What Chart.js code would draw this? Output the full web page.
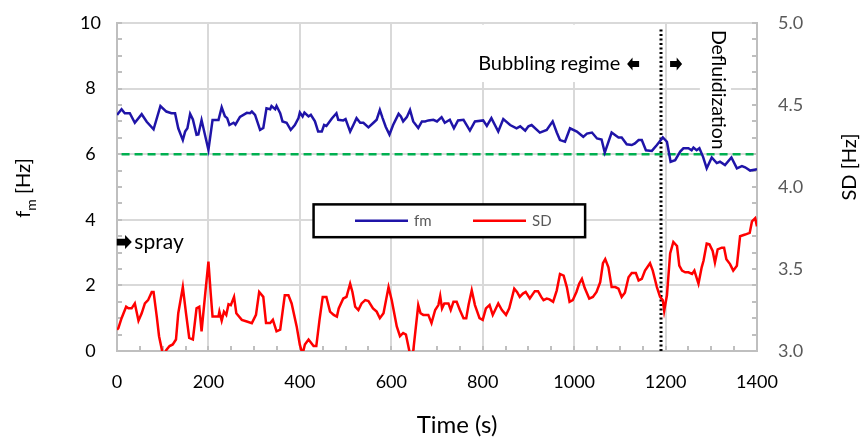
<!DOCTYPE html>
<html>
<head>
<meta charset="utf-8">
<script src="https://cdn.jsdelivr.net/npm/chart.js@4.4.1/dist/chart.umd.min.js"></script>
<style>
  html, body { margin: 0; padding: 0; background: #fff; }
  #wrap { width: 867px; height: 439px; position: relative; }
</style>
</head>
<body>
<div id="wrap"><canvas id="chart"></canvas></div>
<script>
// fm (left axis, Hz)
const fmTime = [0, 3, 10, 17, 28, 39, 54, 65, 80, 95, 108, 119, 127, 134, 144, 149, 154, 160, 166, 174, 178, 185, 200, 209, 222, 229, 236, 241, 246, 255, 259, 269, 284, 291, 295, 302, 313, 320, 327, 335, 338, 346, 349, 357, 362, 371, 380, 389, 397, 400, 406, 410, 419, 424, 433, 440, 448, 453, 458, 470, 480, 484, 495, 500, 510, 517, 524, 532, 539, 550, 561, 568, 575, 581, 588, 596, 604, 616, 621, 626, 634, 641, 648, 659, 667, 674, 681, 692, 700, 710, 717, 728, 737, 746, 758, 772, 783, 801, 809, 819, 834, 845, 860, 874, 882, 893, 900, 907, 925, 940, 953, 962, 969, 980, 991, 1006, 1020, 1028, 1039, 1050, 1060, 1067, 1082, 1097, 1104, 1115, 1126, 1133, 1141, 1148, 1157, 1170, 1181, 1194, 1203, 1211, 1221, 1232, 1239, 1250, 1257, 1261, 1268, 1274, 1282, 1290, 1301, 1312, 1319, 1330, 1344, 1356, 1367, 1374, 1385, 1400];
const fmValues = [7.2, 7.25, 7.37, 7.25, 7.25, 6.96, 7.22, 6.99, 6.76, 7.47, 7.3, 7.25, 7.25, 6.79, 6.43, 6.69, 6.79, 7.23, 7.06, 6.59, 6.6, 7.04, 6.13, 7.04, 7.04, 7.43, 7.16, 7.1, 6.89, 6.96, 6.9, 7.14, 7.26, 7.25, 7.3, 7.2, 6.74, 6.8, 7.4, 7.37, 7.47, 7.37, 7.47, 7.25, 7.0, 6.96, 6.74, 6.89, 7.1, 7.27, 7.15, 7.27, 7.15, 7.2, 7.0, 6.69, 6.69, 6.89, 6.86, 7.09, 7.25, 7.05, 7.03, 7.07, 6.69, 6.89, 7.1, 6.96, 6.96, 6.82, 6.96, 7.05, 7.35, 7.1, 6.83, 6.6, 6.89, 7.23, 7.15, 7.0, 7.13, 7.35, 7.0, 6.8, 7.0, 7.0, 7.03, 7.05, 7.0, 7.13, 6.96, 7.05, 6.79, 7.03, 7.05, 6.72, 7.0, 7.03, 6.86, 7.1, 6.69, 7.07, 6.89, 6.79, 6.85, 6.72, 6.85, 6.89, 6.66, 6.74, 7.0, 6.66, 6.43, 6.38, 6.79, 6.69, 6.53, 6.63, 6.66, 6.48, 6.45, 6.05, 6.66, 6.51, 6.51, 6.3, 6.28, 6.33, 6.43, 6.43, 6.12, 6.1, 6.28, 6.51, 6.38, 5.77, 5.82, 6.08, 6.18, 6.18, 6.12, 6.2, 6.12, 6.18, 5.92, 5.57, 5.9, 5.73, 5.77, 5.67, 5.9, 5.57, 5.64, 5.6, 5.5, 5.54];

// SD (right axis, Hz)
const sdTime = [0, 3, 10, 20, 25, 32, 39, 47, 54, 61, 68, 76, 80, 87, 92, 101, 108, 115, 122, 129, 134, 144, 151, 158, 166, 174, 180, 185, 193, 200, 205, 209, 222, 224, 229, 234, 239, 244, 249, 256, 261, 273, 284, 295, 304, 311, 320, 326, 335, 341, 349, 357, 367, 375, 382, 393, 400, 406, 411, 419, 430, 436, 443, 450, 458, 466, 474, 481, 485, 495, 502, 510, 515, 521, 528, 535, 543, 550, 560, 568, 575, 583, 594, 601, 612, 619, 626, 632, 641, 648, 659, 664, 670, 681, 688, 696, 703, 707, 711, 716, 725, 730, 736, 743, 750, 758, 764, 769, 776, 783, 793, 800, 807, 815, 822, 834, 842, 851, 858, 869, 875, 881, 888, 894, 903, 914, 921, 928, 933, 940, 946, 954, 962, 969, 977, 984, 990, 997, 1005, 1011, 1017, 1023, 1033, 1041, 1049, 1057, 1063, 1068, 1075, 1082, 1090, 1097, 1104, 1111, 1119, 1126, 1135, 1141, 1148, 1155, 1166, 1172, 1181, 1188, 1194, 1197, 1203, 1210, 1217, 1225, 1230, 1236, 1243, 1250, 1258, 1263, 1272, 1279, 1283, 1290, 1296, 1303, 1308, 1314, 1323, 1328, 1333, 1341, 1348, 1356, 1363, 1374, 1384, 1389, 1396, 1400];
const sdValues = [3.13, 3.14, 3.2, 3.27, 3.26, 3.26, 3.29, 3.185, 3.23, 3.29, 3.31, 3.36, 3.36, 3.21, 3.09, 2.97, 3.006, 3.03, 3.04, 3.07, 3.23, 3.39, 3.23, 3.08, 3.07, 3.26, 3.27, 3.12, 3.35, 3.545, 3.35, 3.21, 3.21, 3.24, 3.185, 3.24, 3.22, 3.285, 3.28, 3.33, 3.23, 3.19, 3.18, 3.17, 3.22, 3.36, 3.33, 3.17, 3.17, 3.19, 3.12, 3.13, 3.34, 3.34, 3.29, 3.15, 3.037, 2.98, 3.04, 3.07, 3.03, 3.03, 3.19, 3.33, 3.33, 3.24, 3.22, 3.21, 3.26, 3.32, 3.33, 3.41, 3.36, 3.27, 3.25, 3.29, 3.31, 3.305, 3.26, 3.24, 3.2, 3.23, 3.39, 3.31, 3.15, 3.09, 3.11, 3.1, 2.98, 3.0, 3.28, 3.23, 3.22, 3.22, 3.17, 3.25, 3.28, 3.335, 3.26, 3.29, 3.29, 3.25, 3.3, 3.3, 3.25, 3.2, 3.2, 3.28, 3.37, 3.28, 3.2, 3.19, 3.26, 3.28, 3.22, 3.29, 3.25, 3.22, 3.26, 3.38, 3.36, 3.33, 3.35, 3.36, 3.32, 3.365, 3.365, 3.33, 3.31, 3.32, 3.315, 3.3, 3.37, 3.47, 3.46, 3.39, 3.3, 3.31, 3.36, 3.41, 3.44, 3.385, 3.32, 3.33, 3.36, 3.42, 3.535, 3.56, 3.51, 3.39, 3.39, 3.38, 3.33, 3.355, 3.45, 3.475, 3.475, 3.43, 3.44, 3.49, 3.535, 3.49, 3.39, 3.33, 3.31, 3.245, 3.34, 3.595, 3.665, 3.64, 3.52, 3.49, 3.48, 3.48, 3.47, 3.49, 3.41, 3.51, 3.55, 3.655, 3.65, 3.61, 3.54, 3.62, 3.63, 3.63, 3.56, 3.53, 3.49, 3.52, 3.7, 3.71, 3.72, 3.79, 3.81, 3.76];

// reference line at 6 Hz and the bubbling / defluidization boundary
const refTime = [10, 1400];
const refValues = [6, 6];
const boundaryTime = [1190, 1190];
const boundaryValues = [0, 9.85];

const FONT = 'Lato';
const GRID = '#d9d9d9';
const AXIS = '#bfbfbf';

const toPoints = (xs, ys) => xs.map((t, i) => ({x: t, y: ys[i]}));

// draws a small filled block arrow
function blockArrow(ctx, cx, cy, w, h, dir) {
  const hw = w / 2, hh = h / 2, body = h * 0.24;
  const neck = dir * (hw * 0.1);
  ctx.beginPath();
  ctx.moveTo(cx - dir * hw, cy - body);
  ctx.lineTo(cx + neck, cy - body);
  ctx.lineTo(cx + neck, cy - hh);
  ctx.lineTo(cx + dir * hw, cy);
  ctx.lineTo(cx + neck, cy + hh);
  ctx.lineTo(cx + neck, cy + body);
  ctx.lineTo(cx - dir * hw, cy + body);
  ctx.closePath();
  ctx.fill();
}

// keep the plot top where the reference has it
const noVPad = (s, w) => { s.width = w; s.paddingTop = 0; s.paddingBottom = 0; };

const decor = {
  id: 'decor',
  beforeDatasetsDraw(chart) {
    const {ctx, chartArea: ca, scales: {x, y, y2}} = chart;
    ctx.save();
    // minor tick marks, pointing into the plot
    ctx.strokeStyle = AXIS;
    ctx.lineWidth = 2;
    ctx.beginPath();
    for (let t = 0; t <= 1400; t += 50) {
      const px = Math.round(x.getPixelForValue(t));
      ctx.moveTo(px, ca.bottom);
      ctx.lineTo(px, ca.bottom - 5);
    }
    for (let v = 0; v <= 10; v += 0.5) {
      const py = Math.round(y.getPixelForValue(v));
      ctx.moveTo(ca.left, py);
      ctx.lineTo(ca.left + 5, py);
    }
    for (let i = 0; i <= 20; i++) {
      const py = Math.round(y2.getPixelForValue(3 + i * 0.1));
      ctx.moveTo(ca.right, py);
      ctx.lineTo(ca.right - 5, py);
    }
    ctx.stroke();

    // text boxes (white fill hides the grid behind them)
    ctx.fillStyle = '#fff';
    ctx.fillRect(x.getPixelForValue(770), y.getPixelForValue(9.95), x.getPixelForValue(1178) - x.getPixelForValue(770), y.getPixelForValue(8.2) - y.getPixelForValue(9.95));
    ctx.fillRect(x.getPixelForValue(1275), y.getPixelForValue(9.92), x.getPixelForValue(1343) - x.getPixelForValue(1275), y.getPixelForValue(6.12) - y.getPixelForValue(9.92));

    ctx.fillStyle = '#000';
    ctx.font = `20px ${FONT}`;
    ctx.textBaseline = 'middle';
    ctx.textAlign = 'left';
    const by = y.getPixelForValue(8.75);
    ctx.fillText('Bubbling regime', x.getPixelForValue(790), by);
    blockArrow(ctx, x.getPixelForValue(1129), by, 12, 13, -1);
    blockArrow(ctx, x.getPixelForValue(1223), by, 12, 13, 1);

    // Defluidization, reading top to bottom
    ctx.save();
    ctx.translate(x.getPixelForValue(1315), y.getPixelForValue(9.79));
    ctx.rotate(Math.PI / 2);
    ctx.font = `19.5px ${FONT}`;
    ctx.textAlign = 'left';
    ctx.fillText('Defluidization', 0, 0);
    ctx.restore();

    // spray marker
    const sy = y.getPixelForValue(3.32);
    blockArrow(ctx, x.getPixelForValue(16), sy, 15, 14, 1);
    ctx.font = `21px ${FONT}`;
    ctx.fillText('spray', x.getPixelForValue(38), sy);
    ctx.restore();
  },
  afterDraw(chart) {
    const {ctx, scales: {x, y}} = chart;
    ctx.save();
    // legend box
    const lx0 = x.getPixelForValue(430), lx1 = x.getPixelForValue(1024);
    const ly0 = y.getPixelForValue(4.47), ly1 = y.getPixelForValue(3.47);
    ctx.fillStyle = '#fff';
    ctx.fillRect(lx0, ly0, lx1 - lx0, ly1 - ly0);
    ctx.strokeStyle = '#000';
    ctx.lineWidth = 2.5;
    ctx.strokeRect(lx0, ly0, lx1 - lx0, ly1 - ly0);
    const ly = (ly0 + ly1) / 2;
    const items = [
      {label: 'fm', color: chart.data.datasets[0].borderColor, x0: 355},
      {label: 'SD', color: chart.data.datasets[1].borderColor, x0: 473}
    ];
    ctx.font = `15px ${FONT}`;
    ctx.textBaseline = 'middle';
    ctx.textAlign = 'left';
    items.forEach(it => {
      ctx.strokeStyle = it.color;
      ctx.lineWidth = 2.5;
      ctx.beginPath();
      ctx.moveTo(it.x0, ly);
      ctx.lineTo(it.x0 + 53, ly);
      ctx.stroke();
      ctx.fillStyle = '#595959';
      ctx.fillText(it.label, it.x0 + 59, ly);
    });

    // axis titles
    ctx.fillStyle = '#000';
    // left: f with subscript m, then [Hz]
    ctx.save();
    ctx.translate(24, 188);
    ctx.rotate(-Math.PI / 2);
    ctx.font = `20px ${FONT}`;
    const wf = ctx.measureText('f').width;
    const wr = ctx.measureText(' [Hz]').width;
    ctx.font = `14px ${FONT}`;
    const wm = ctx.measureText('m').width;
    let sx = -(wf + wm + wr) / 2;
    ctx.textBaseline = 'middle';
    ctx.font = `20px ${FONT}`;
    ctx.fillText('f', sx, 0);
    ctx.font = `14px ${FONT}`;
    ctx.fillText('m', sx + wf, 7);
    ctx.font = `20px ${FONT}`;
    ctx.fillText(' [Hz]', sx + wf + wm, 0);
    ctx.restore();

    ctx.save();
    ctx.translate(850, 167);
    ctx.rotate(-Math.PI / 2);
    ctx.font = `20px ${FONT}`;
    ctx.textAlign = 'center';
    ctx.textBaseline = 'middle';
    ctx.fillText('SD [Hz]', 0, 0);
    ctx.restore();

    ctx.font = `24px ${FONT}`;
    ctx.textAlign = 'center';
    ctx.textBaseline = 'middle';
    ctx.fillText('Time (s)', 457, 425);
    ctx.restore();
  }
};

new Chart(document.getElementById('chart'), {
  type: 'line',
  data: {
    datasets: [
      {
        label: 'fm',
        data: toPoints(fmTime, fmValues),
        borderColor: '#1f14a8',
        borderWidth: 2.5,
        pointRadius: 0,
        tension: 0,
        yAxisID: 'y'
      },
      {
        label: 'SD',
        data: toPoints(sdTime, sdValues),
        borderColor: '#ff0000',
        borderWidth: 2.5,
        pointRadius: 0,
        tension: 0,
        yAxisID: 'y2'
      },
      {
        label: 'ref',
        data: toPoints(refTime, refValues),
        borderColor: '#00b050',
        borderWidth: 2.5,
        borderDash: [8, 5],
        pointRadius: 0,
        yAxisID: 'y'
      },
      {
        label: 'boundary',
        data: toPoints(boundaryTime, boundaryValues),
        borderColor: '#000',
        borderWidth: 3,
        borderDash: [2, 2.5],
        pointRadius: 0,
        yAxisID: 'y'
      }
    ]
  },
  options: {
    responsive: true,
    maintainAspectRatio: false,
    animation: false,
    devicePixelRatio: 1,
    layout: {padding: {top: 23, left: 0, right: 0, bottom: 0}},
    plugins: {
      legend: {display: false},
      tooltip: {enabled: false}
    },
    scales: {
      x: {
        type: 'linear',
        min: 0,
        max: 1400,
        ticks: {stepSize: 200, color: '#000', font: {family: FONT, size: 18}, padding: 20,
          callback: (v) => String(v)},
        grid: {color: GRID, lineWidth: 2, drawTicks: false},
        border: {color: AXIS, width: 2},
        afterFit: (s) => { s.height = 88; }
      },
      y: {
        position: 'left',
        min: 0,
        max: 10,
        ticks: {stepSize: 2, color: '#000', font: {family: FONT, size: 18}, padding: 16, crossAlign: 'center'},
        grid: {color: GRID, lineWidth: 2, drawTicks: false},
        border: {color: AXIS, width: 2},
        afterFit: (s) => noVPad(s, 117)
      },
      y2: {
        position: 'right',
        min: 3,
        max: 5,
        ticks: {stepSize: 0.5, color: '#595959', font: {family: FONT, size: 18}, padding: 21,
          callback: (v) => v.toFixed(1)},
        grid: {drawOnChartArea: false, drawTicks: false},
        border: {color: AXIS, width: 2},
        afterFit: (s) => noVPad(s, 110)
      }
    }
  },
  plugins: [decor]
});
</script>
</body>
</html>
